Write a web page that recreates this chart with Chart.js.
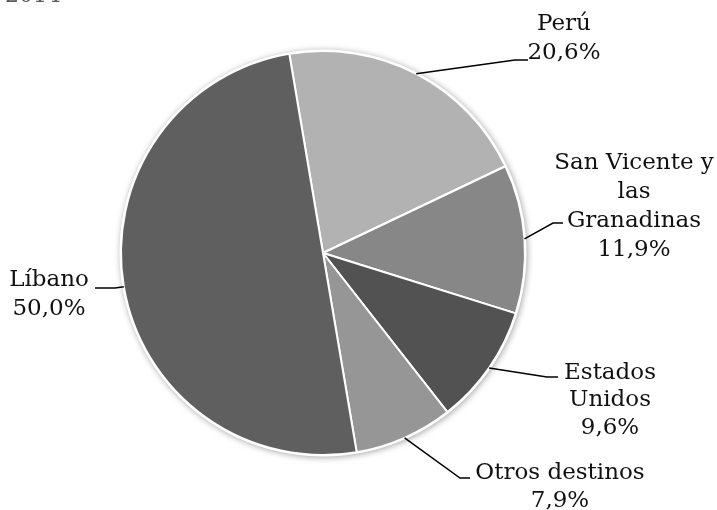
<!DOCTYPE html>
<html>
<head>
<meta charset="utf-8">
<script src="https://cdn.jsdelivr.net/npm/chart.js@4/dist/chart.umd.min.js"></script>
<style>
  html, body { margin: 0; padding: 0; background: #fff; }
  #wrap { width: 717px; height: 510px; position: relative; }
</style>
</head>
<body>
<div id="wrap"><canvas id="pie"></canvas></div>
<script>
// Data
const categories = ['Perú', 'San Vicente y las Granadinas', 'Estados Unidos', 'Otros destinos', 'Líbano'];
const shares = [20.6, 11.9, 9.6, 7.9, 50.0];
const sliceColors = ['#b2b2b2', '#878787', '#525252', '#969696', '#5f5f5f'];
const labelLines = [
    ['Perú'],
    ['San Vicente y', 'las', 'Granadinas'],
    ['Estados', 'Unidos'],
    ['Otros destinos'],
    ['Líbano']
];
const titleText = '2014';

// label placement (leader elbow + text block), one per slice
const labelLayout = [
    { elbow: [515, 60], end: [528, 60], tx: 564, ty: 24, lh: 29 },
    { elbow: [553, 223], end: [563, 223], tx: 634, ty: 163, lh: 29 },
    { elbow: [547, 377], end: [558, 377], tx: 610, ty: 373, lh: 27.5 },
    { elbow: [460, 478], end: [470, 478], tx: 560, ty: 473, lh: 28 },
    { elbow: [115, 288], end: [95, 288], tx: 49, ty: 280, lh: 29 }
];

const fmt = v => v.toFixed(1).replace('.', ',') + '%';
const FONT = '23px "DejaVu Serif", serif';

// soft shadow behind the whole pie
const pieShadow = {
    id: 'pieShadow',
    beforeDatasetsDraw(chart) {
        const arc = chart.getDatasetMeta(0).data[0];
        if (!arc) return;
        const { x, y, outerRadius } = arc.getProps(['x', 'y', 'outerRadius'], true);
        const ctx = chart.ctx;
        ctx.save();
        ctx.shadowColor = 'rgba(0,0,0,0.35)';
        ctx.shadowBlur = 6;
        ctx.shadowOffsetX = 1;
        ctx.shadowOffsetY = 1;
        ctx.fillStyle = '#ffffff';
        ctx.beginPath();
        ctx.arc(x, y, outerRadius + 1.5, 0, Math.PI * 2);
        ctx.fill();
        ctx.restore();
    }
};

// leader lines + data labels
const pieLabels = {
    id: 'pieLabels',
    afterDatasetsDraw(chart) {
        const ctx = chart.ctx;
        const meta = chart.getDatasetMeta(0);
        ctx.save();

        // title, mostly above the visible area
        ctx.font = '22px "DejaVu Serif", serif';
        ctx.fillStyle = '#595959';
        ctx.textAlign = 'left';
        ctx.textBaseline = 'alphabetic';
        ctx.fillText(titleText, 5, 1.5);

        meta.data.forEach((arc, i) => {
            const p = arc.getProps(['x', 'y', 'startAngle', 'endAngle', 'outerRadius'], true);
            const mid = (p.startAngle + p.endAngle) / 2;
            const ax = p.x + Math.cos(mid) * p.outerRadius;
            const ay = p.y + Math.sin(mid) * p.outerRadius;
            const L = labelLayout[i];

            ctx.strokeStyle = '#000';
            ctx.lineWidth = 1.5;
            ctx.beginPath();
            ctx.moveTo(ax, ay);
            ctx.lineTo(L.elbow[0], L.elbow[1]);
            ctx.lineTo(L.end[0], L.end[1]);
            ctx.stroke();

            const lines = labelLines[i].concat([fmt(shares[i])]);
            ctx.font = FONT;
            ctx.fillStyle = '#111';
            ctx.textAlign = 'center';
            ctx.textBaseline = 'middle';
            lines.forEach((t, k) => ctx.fillText(t, L.tx, L.ty + k * L.lh));
        });
        ctx.restore();
    }
};

new Chart(document.getElementById('pie'), {
    type: 'pie',
    data: {
        labels: categories,
        datasets: [{
            data: shares,
            backgroundColor: sliceColors,
            borderColor: '#ffffff',
            borderWidth: 2
        }]
    },
    options: {
        responsive: true,
        maintainAspectRatio: false,
        animation: false,
        rotation: -9.6,
        layout: { padding: { top: 50, bottom: 54, left: 120, right: 191 } },
        plugins: {
            legend: { display: false },
            tooltip: { enabled: false }
        }
    },
    plugins: [pieShadow, pieLabels]
});
</script>
</body>
</html>
